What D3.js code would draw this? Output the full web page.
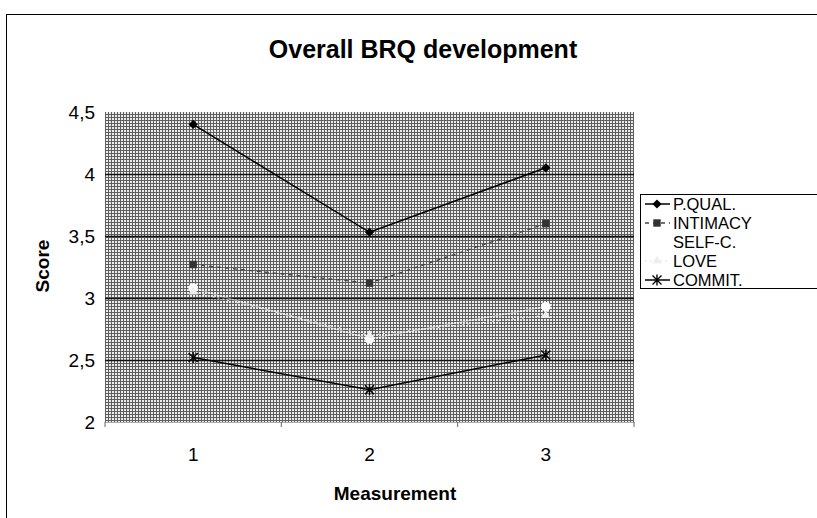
<!DOCTYPE html>
<html lang="en">
<head>
  <meta charset="UTF-8">
  <title>Overall BRQ development</title>
  <script src="https://d3js.org/d3.v7.min.js"></script>
  <style>
    body { margin: 0; background: #fff; }
    text { font-family: "Liberation Sans", Arial, sans-serif; fill: #000; }
    .title { font-size: 25px; font-weight: bold; }
    .axis-title { font-size: 19px; font-weight: bold; }
    .tick text { font-size: 19px; }
    .legend text { font-size: 16.5px; }
  </style>
</head>
<body>
  <div id="chart"></div>
  <script>
    // measurements (x categories)
    const measurements = ["1", "2", "3"];
    // y ticks and their labels (comma decimal)
    const yTicks = [2, 2.5, 3, 3.5, 4, 4.5];
    const yTickLabels = ["2", "2,5", "3", "3,5", "4", "4,5"];

    // series values
    const pQual    = [4.40, 3.53, 4.05];
    const intimacy = [3.27, 3.12, 3.60];
    const selfC    = [3.08, 2.67, 2.93];
    const love     = [3.05, 2.70, 2.86];
    const commit   = [2.52, 2.26, 2.54];

    const seriesNames = ["P.QUAL.", "INTIMACY", "SELF-C.", "LOVE", "COMMIT."];

    const width = 817, height = 518;
    const plot = {left: 105, right: 634, top: 112, bottom: 422};

    const svg = d3.select("#chart").append("svg")
      .attr("width", width)
      .attr("height", height);

    // dither-like texture for the plot area
    const defs = svg.append("defs");
    const pat = defs.append("pattern")
      .attr("id", "dither")
      .attr("width", 3).attr("height", 3)
      .attr("patternUnits", "userSpaceOnUse");
    pat.append("rect").attr("width", 3).attr("height", 3).attr("fill", "#ececec");
    pat.append("rect").attr("width", 3).attr("height", 1).attr("fill", "#5e5e5e");
    pat.append("rect").attr("width", 1).attr("height", 3).attr("fill", "#5e5e5e");

    // outer chart frame (right and bottom run off the picture)
    svg.append("rect")
      .attr("x", 6.5).attr("y", 14.5)
      .attr("width", 840).attr("height", 540)
      .attr("fill", "none")
      .attr("stroke", "#000");

    const x = d3.scaleBand()
      .domain(measurements)
      .range([plot.left, plot.right]);

    const y = d3.scaleLinear()
      .domain([2, 4.5])
      .range([plot.bottom, plot.top]);

    // plot background
    svg.append("rect")
      .attr("x", plot.left).attr("y", plot.top)
      .attr("width", plot.right - plot.left)
      .attr("height", plot.bottom - plot.top)
      .attr("fill", "url(#dither)");

    // gridlines
    svg.append("g")
      .attr("transform", `translate(${plot.left},0)`)
      .call(d3.axisLeft(y).tickValues(yTicks.filter(v => v > 2 && v < 4.5))
        .tickSize(-(plot.right - plot.left)).tickFormat(""))
      .call(g => g.select(".domain").remove())
      .selectAll("line")
      .attr("stroke", "#111")
      .attr("stroke-width", 1.3);

    // y axis labels
    svg.append("g")
      .attr("transform", `translate(${plot.left},0)`)
      .call(d3.axisLeft(y).tickValues(yTicks)
        .tickFormat((d, i) => yTickLabels[i])
        .tickSize(0).tickPadding(10))
      .call(g => g.select(".domain").remove());

    // x axis with tick marks at category boundaries
    const xAxis = svg.append("g")
      .attr("transform", `translate(0,${plot.bottom})`)
      .call(d3.axisBottom(x).tickSize(0).tickPadding(26));
    xAxis.select(".domain").attr("stroke", "#555").attr("stroke-dasharray", "1,1");
    xAxis.selectAll(".bound")
      .data(d3.range(measurements.length + 1))
      .join("line")
      .attr("class", "bound")
      .attr("x1", i => plot.left + i * x.step())
      .attr("x2", i => plot.left + i * x.step())
      .attr("y1", 0).attr("y2", 5)
      .attr("stroke", "#666");

    // titles
    svg.append("text").attr("class", "title")
      .attr("x", 423).attr("y", 58)
      .attr("text-anchor", "middle")
      .text("Overall BRQ development");

    svg.append("text").attr("class", "axis-title")
      .attr("x", 395).attr("y", 500)
      .attr("text-anchor", "middle")
      .text("Measurement");

    svg.append("text").attr("class", "axis-title")
      .attr("transform", "translate(49,266) rotate(-90)")
      .attr("text-anchor", "middle")
      .text("Score");

    // series styles
    const styles = [
      {values: pQual, stroke: "#000", dash: null, width: 1.5, marker: "diamond", size: 42, fill: "#000"},
      {values: intimacy, stroke: "#444", dash: "4,4", width: 1.3, marker: "square", size: 55, fill: "#333"},
      {values: selfC, stroke: "rgba(255,255,255,0.45)", dash: null, width: 1.2, marker: "circle", size: 70, fill: "#fff"},
      {values: love, stroke: "#e2e2e2", dash: "2,3", width: 1.2, marker: "triangle", size: 35, fill: "#eee"},
      {values: commit, stroke: "#000", dash: null, width: 1.5, marker: "star", size: 0, fill: "#000"}
    ];

    const line = d3.line()
      .x((d, i) => x(measurements[i]) + x.bandwidth() / 2)
      .y(d => y(d));

    const symbols = {
      diamond: d3.symbolSquare,
      square: d3.symbolSquare,
      circle: d3.symbolCircle,
      triangle: d3.symbolTriangle
    };

    function drawMarker(g, s, cx, cy) {
      if (s.marker === "star") {
        // asterisk marker
        const r = 4.5;
        g.append("path")
          .attr("d", `M${cx - r},${cy - r}L${cx + r},${cy + r}M${cx - r},${cy + r}L${cx + r},${cy - r}M${cx},${cy - r - 1}L${cx},${cy + r + 1}`)
          .attr("stroke", s.fill).attr("stroke-width", 1.4).attr("fill", "none");
      } else {
        g.append("path")
          .attr("d", d3.symbol(symbols[s.marker], s.size)())
          .attr("transform", `translate(${cx},${cy})` + (s.marker === "diamond" ? " rotate(45)" : ""))
          .attr("fill", s.fill);
      }
    }

    styles.forEach(s => {
      const g = svg.append("g");
      g.append("path")
        .datum(s.values)
        .attr("d", line)
        .attr("fill", "none")
        .attr("stroke", s.stroke)
        .attr("stroke-width", s.width)
        .attr("stroke-dasharray", s.dash);
      s.values.forEach((v, i) => drawMarker(g, s, x(measurements[i]) + x.bandwidth() / 2, y(v)));
    });

    // legend
    const legend = svg.append("g").attr("class", "legend");
    legend.append("rect")
      .attr("x", 640.5).attr("y", 194.5)
      .attr("width", 200).attr("height", 94)
      .attr("fill", "#fff").attr("stroke", "#000");

    seriesNames.forEach((name, i) => {
      const s = styles[i];
      const ly = 204 + i * 19;
      legend.append("line")
        .attr("x1", 645).attr("x2", 670)
        .attr("y1", ly).attr("y2", ly)
        .attr("stroke", i === 2 ? "#fff" : s.stroke)
        .attr("stroke-width", s.width)
        .attr("stroke-dasharray", s.dash);
      drawMarker(legend, s, 657, ly);
      legend.append("text")
        .attr("x", 673).attr("y", ly + 6)
        .text(name);
    });
  </script>
</body>
</html>
